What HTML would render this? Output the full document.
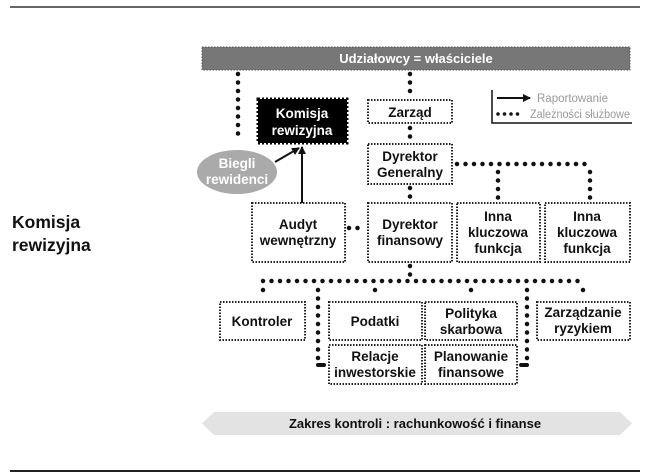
<!DOCTYPE html>
<html><head><meta charset="utf-8"><style>
html,body{margin:0;padding:0;background:#fff;width:645px;height:474px;overflow:hidden}
svg text{font-family:"Liberation Sans","DejaVu Sans",sans-serif;font-weight:bold}
</style></head><body>
<svg width="645" height="474" viewBox="0 0 645 474" xmlns="http://www.w3.org/2000/svg">
<defs><marker id="ah" markerWidth="8" markerHeight="8" refX="7" refY="4" orient="auto" markerUnits="userSpaceOnUse"><path d="M0,0 L8,4 L0,8 z" fill="#111"/></marker></defs>
<line x1="10" y1="7" x2="640" y2="7" stroke="#333" stroke-width="1.5"/>
<line x1="10" y1="471" x2="640" y2="471" stroke="#222" stroke-width="2"/>
<text x="12" y="228" font-size="17.5" fill="#111">Komisja</text>
<text x="12" y="251" font-size="17.5" fill="#111">rewizyjna</text>
<rect x="202" y="47" width="428" height="23" fill="#777" stroke="#555" stroke-dasharray="1.5 1.5"/>
<text x="416" y="63" font-size="13" fill="#fff" text-anchor="middle">Udziałowcy = właściciele</text>
<g stroke="#111" stroke-width="4.5" stroke-linecap="round" stroke-dasharray="0 8.5" fill="none">
<line x1="238" y1="74" x2="238" y2="140"/>
<line x1="410" y1="74" x2="410" y2="97"/>
<line x1="410" y1="128" x2="410" y2="142"/>
<line x1="410" y1="188" x2="410" y2="200"/>
<line x1="457" y1="164" x2="590" y2="164"/>
<line x1="498" y1="172" x2="498" y2="198"/>
<line x1="590" y1="172" x2="590" y2="198"/>
<line x1="349" y1="228" x2="365" y2="228"/>
<line x1="410" y1="266" x2="410" y2="275"/>
<line x1="263" y1="281" x2="583" y2="281"/>
<line x1="263" y1="290" x2="263" y2="298"/>
<line x1="318" y1="290" x2="318" y2="365"/>
<line x1="375" y1="290" x2="375" y2="298"/>
<line x1="471" y1="290" x2="471" y2="298"/>
<line x1="527" y1="290" x2="527" y2="365"/>
<line x1="583" y1="290" x2="583" y2="298"/>
<line x1="498" y1="114" x2="524" y2="114" stroke-width="3.5" stroke-dasharray="0 6.5"/>
</g>
<g stroke="#111" stroke-width="4" stroke-linecap="round" fill="none">
<line x1="318" y1="365" x2="324" y2="365"/>
<line x1="521" y1="365" x2="527" y2="365"/>
</g>
<rect x="258" y="99" width="89" height="44" fill="#000" stroke="#000" stroke-width="3" stroke-dasharray="2 2"/>
<text x="302" y="118" font-size="13.5" fill="#fff" text-anchor="middle">Komisja</text>
<text x="302" y="135" font-size="13.5" fill="#fff" text-anchor="middle">rewizyjna</text>
<ellipse cx="237" cy="172" rx="40" ry="22" fill="#aaa"/>
<text x="237" y="168" font-size="13.5" fill="#fff" text-anchor="middle">Biegli</text>
<text x="237" y="184" font-size="13.5" fill="#fff" text-anchor="middle">rewidenci</text>
<line x1="302" y1="203" x2="302" y2="147" stroke="#111" stroke-width="2" marker-end="url(#ah)"/>
<line x1="275" y1="162" x2="299" y2="148" stroke="#111" stroke-width="2" marker-end="url(#ah)"/>
<polyline points="492,90 492,123 632,123" fill="none" stroke="#111" stroke-width="1.5"/>
<line x1="497" y1="98" x2="530" y2="98" stroke="#111" stroke-width="2" marker-end="url(#ah)"/>
<text x="537" y="102" font-size="11.5" fill="#999" style="font-weight:normal">Raportowanie</text>
<text x="530" y="118" font-size="11.5" fill="#999" style="font-weight:normal" textLength="100" lengthAdjust="spacingAndGlyphs">Zależności służbowe</text>
<g fill="#fff" stroke="#222" stroke-width="2" stroke-dasharray="1.5 1.5">
<rect x="368" y="100" width="84" height="23"/>
<rect x="368" y="144" width="84" height="40"/>
<rect x="252" y="203" width="93" height="59"/>
<rect x="368" y="203" width="84" height="59"/>
<rect x="457" y="203" width="83" height="59"/>
<rect x="545" y="203" width="85" height="59"/>
<rect x="220" y="302" width="85" height="38"/>
<rect x="329" y="302" width="93" height="38"/>
<rect x="425" y="302" width="92" height="38"/>
<rect x="329" y="345" width="93" height="39"/>
<rect x="425" y="345" width="92" height="39"/>
<rect x="537" y="302" width="93" height="38"/>
</g>
<g font-size="13.5" fill="#111" text-anchor="middle">
<text x="410" y="117">Zarząd</text>
<text x="410" y="161">Dyrektor</text><text x="410" y="177">Generalny</text>
<text x="298" y="229">Audyt</text><text x="298" y="245">wewnętrzny</text>
<text x="410" y="229">Dyrektor</text><text x="410" y="245">finansowy</text>
<text x="498" y="221">Inna</text><text x="498" y="237">kluczowa</text><text x="498" y="253">funkcja</text>
<text x="587" y="221">Inna</text><text x="587" y="237">kluczowa</text><text x="587" y="253">funkcja</text>
<text x="262" y="326">Kontroler</text>
<text x="375" y="326">Podatki</text>
<text x="471" y="318">Polityka</text><text x="471" y="334">skarbowa</text>
<text x="583" y="317">Zarządzanie</text><text x="583" y="333">ryzykiem</text>
<text x="375" y="361">Relacje</text><text x="375" y="377">inwestorskie</text>
<text x="471" y="361">Planowanie</text><text x="471" y="377">finansowe</text>
</g>
<polygon points="202,423.5 214,412 620,412 632,423.5 620,435 214,435" fill="#e3e3e3"/>
<text x="415" y="428" font-size="13" fill="#111" text-anchor="middle">Zakres kontroli : rachunkowość i finanse</text>
</svg>
</body></html>
